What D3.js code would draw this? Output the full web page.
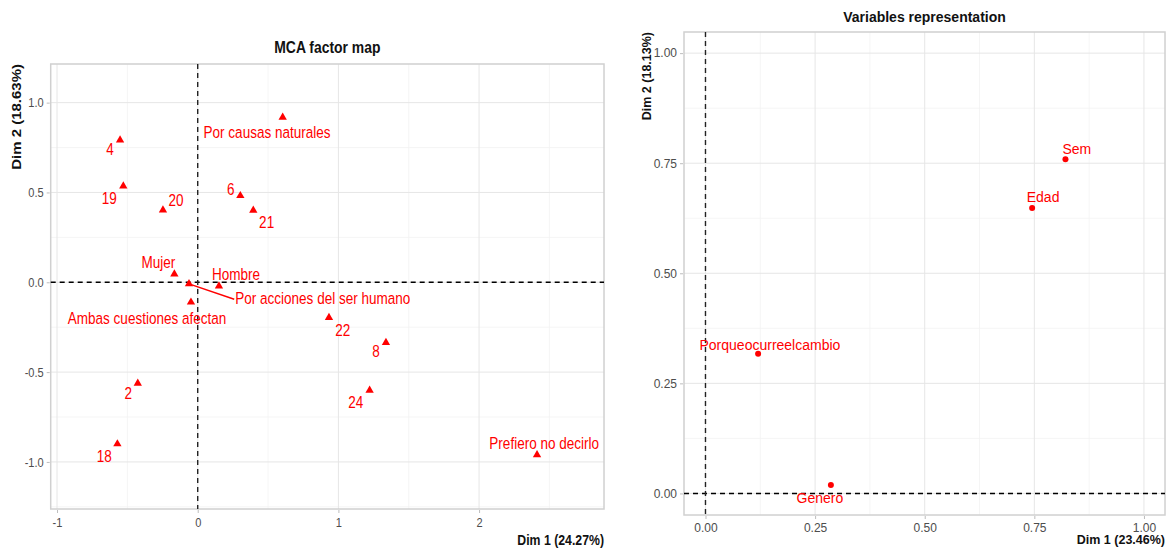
<!DOCTYPE html>
<html>
<head>
<meta charset="utf-8">
<script src="https://cdn.jsdelivr.net/npm/d3@7"></script>
<style>
  body { margin: 0; background: #fff; }
  svg text { font-family: "Liberation Sans", Arial, sans-serif; }
</style>
</head>
<body>
<svg id="chart" width="1167" height="548"></svg>
<script>
// ---- MCA factor map (categories) ----
var mcaNames = ["4", "19", "20", "6", "21", "Por causas naturales", "Mujer", "Hombre",
  "Por acciones del ser humano", "Ambas cuestiones afectan", "22", "8", "24", "2", "18", "Prefiero no decirlo"];
var mcaDim1 = [-0.552, -0.529, -0.247, 0.303, 0.395, 0.604, -0.166, 0.151,
  -0.062, -0.048, 0.933, 1.338, 1.222, -0.426, -0.571, 2.412];
var mcaDim2 = [0.792, 0.536, 0.402, 0.482, 0.401, 0.918, 0.046, -0.021,
  -0.009, -0.111, -0.197, -0.336, -0.601, -0.562, -0.900, -0.961];
// where the repelled labels ended up (data units)
var mcaLabX = [-0.623, -0.628, -0.154, 0.235, 0.490, 0.493, -0.280, 0.272,
  0.889, -0.360, 1.031, 1.267, 1.123, -0.493, -0.664, 2.463];
var mcaLabY = [0.740, 0.467, 0.454, 0.518, 0.332, 0.838, 0.109, 0.045,
  -0.089, -0.200, -0.265, -0.386, -0.670, -0.618, -0.967, -0.896];
var mcaXTicks = [-1, 0, 1, 2];
var mcaYTicks = [-1, -0.5, 0, 0.5, 1];

// ---- Variables representation ----
var varNames = ["Sem", "Edad", "Porqueocurreelcambio", "Genero"];
var varDim1 = [0.821, 0.745, 0.120, 0.286];
var varDim2 = [0.759, 0.648, 0.317, 0.019];
var varLabX = [0.847, 0.770, 0.147, 0.261];
var varLabY = [0.782, 0.673, 0.338, -0.011];
var varTicks = [0, 0.25, 0.5, 0.75, 1];

var svg = d3.select("#chart");
var red = "#FF0000";
var grey = "#4D4D4D";

// the left plot was squeezed sideways, so its text is drawn narrower
function hyphen(f) { return function (d) { return f(d).replace("\u2212", "-"); }; }

function putText(g, x, y, k, txt) {
  return g.append("text")
    .attr("transform", "translate(" + x + "," + y + ") scale(" + k + ",1)")
    .attr("dy", "0.35em").text(txt);
}

function drawPanel(opt) {
  var g = svg.append("g");
  var k = opt.squeeze;
  var x = d3.scaleLinear().domain(opt.xDomain).range([opt.left, opt.right]);
  var y = d3.scaleLinear().domain(opt.yDomain).range([opt.bottom, opt.top]);

  // grid
  opt.xMinor.forEach(function (v) {
    g.append("line").attr("x1", x(v)).attr("x2", x(v)).attr("y1", opt.top).attr("y2", opt.bottom)
      .attr("stroke", "#F2F2F2").attr("stroke-width", 0.8);
  });
  opt.yMinor.forEach(function (v) {
    g.append("line").attr("y1", y(v)).attr("y2", y(v)).attr("x1", opt.left).attr("x2", opt.right)
      .attr("stroke", "#F2F2F2").attr("stroke-width", 0.8);
  });
  opt.xTicks.forEach(function (v) {
    g.append("line").attr("x1", x(v)).attr("x2", x(v)).attr("y1", opt.top).attr("y2", opt.bottom)
      .attr("stroke", "#E6E6E6").attr("stroke-width", 1);
  });
  opt.yTicks.forEach(function (v) {
    g.append("line").attr("y1", y(v)).attr("y2", y(v)).attr("x1", opt.left).attr("x2", opt.right)
      .attr("stroke", "#E6E6E6").attr("stroke-width", 1);
  });

  // panel border
  g.append("rect").attr("x", opt.left).attr("y", opt.top)
    .attr("width", opt.right - opt.left).attr("height", opt.bottom - opt.top)
    .attr("fill", "none").attr("stroke", "#D0D0D0").attr("stroke-width", 1.5);

  // axes
  var xAxis = g.append("g").attr("transform", "translate(0," + (opt.bottom + 1) + ")")
    .call(d3.axisBottom(x).tickValues(opt.xTicks).tickFormat(opt.xFmt).tickSize(3).tickPadding(4));
  var yAxis = g.append("g").attr("transform", "translate(" + (opt.left - 1) + ",0)")
    .call(d3.axisLeft(y).tickValues(opt.yTicks).tickFormat(opt.yFmt).tickSize(3).tickPadding(3));
  [xAxis, yAxis].forEach(function (a) {
    a.select(".domain").remove();
    a.selectAll(".tick line").attr("stroke", "#BDBDBD");
    a.selectAll(".tick text").attr("fill", grey).style("font-size", opt.tickSize + "px")
      .each(function () {
        var t = d3.select(this);
        t.attr("x", (+t.attr("x") || 0) / k).attr("transform", "scale(" + k + ",1)");
      });
  });

  // reference lines
  g.append("line").attr("x1", opt.left).attr("x2", opt.right).attr("y1", y(0)).attr("y2", y(0))
    .attr("stroke", "#000").attr("stroke-width", 1.4).attr("stroke-dasharray", "5,4");
  g.append("line").attr("x1", x(0)).attr("x2", x(0)).attr("y1", opt.top).attr("y2", opt.bottom)
    .attr("stroke", "#222").attr("stroke-width", 1.4).attr("stroke-dasharray", "5,4");

  // titles
  putText(g, (opt.left + opt.right) / 2, opt.titleY, k, opt.title)
    .attr("text-anchor", "middle").style("font-weight", "bold")
    .style("font-size", opt.titleSize + "px").attr("fill", "#111");
  putText(g, opt.right, opt.xLabY, k, opt.xLabel)
    .attr("text-anchor", "end").style("font-weight", "bold")
    .style("font-size", opt.axisSize + "px").attr("fill", "#111");
  g.append("text").attr("transform", "translate(" + opt.yLabX + "," + opt.top + ") rotate(-90) scale(1," + k + ")")
    .attr("text-anchor", "end").attr("dy", "0.35em")
    .style("font-weight", "bold").style("font-size", opt.yAxisSize + "px")
    .attr("fill", "#111").text(opt.yLabel);

  return { g: g, x: x, y: y };
}

// left panel
var L = drawPanel({
  left: 50.7, right: 604, top: 64, bottom: 509, squeeze: 0.82,
  xDomain: [-1.045, 2.888], yDomain: [-1.262, 1.215],
  xTicks: mcaXTicks, yTicks: mcaYTicks,
  xMinor: [-0.5, 0.5, 1.5, 2.5], yMinor: [-1.25, -0.75, -0.25, 0.25, 0.75],
  xFmt: hyphen(d3.format("d")), yFmt: hyphen(d3.format(".1f")),
  tickSize: 13.5, title: "MCA factor map", titleSize: 17, titleY: 46.7,
  xLabel: "Dim 1 (24.27%)", xLabY: 540, axisSize: 15,
  yLabel: "Dim 2 (18.63%)", yLabX: 16.7, yAxisSize: 15
});

var tri = d3.symbol().type(d3.symbolTriangle).size(30);
var mcaIdx = d3.range(mcaNames.length);

var labels = L.g.append("g");
mcaIdx.forEach(function (i) {
  var t = putText(labels, L.x(mcaLabX[i]), L.y(mcaLabY[i]), 0.82, mcaNames[i])
    .attr("text-anchor", "middle").style("font-size", "16.5px").attr("fill", red);
  // segment for the label pushed away from its point
  if (mcaNames[i] === "Por acciones del ser humano") {
    var w = t.node().getComputedTextLength() * 0.82;
    L.g.append("line")
      .attr("x1", L.x(mcaDim1[i])).attr("y1", L.y(mcaDim2[i]))
      .attr("x2", L.x(mcaLabX[i]) - w / 2 - 1).attr("y2", L.y(mcaLabY[i]) + 1)
      .attr("stroke", red).attr("stroke-width", 1.5);
  }
});
L.g.append("g").selectAll("path").data(mcaIdx).enter().append("path")
  .attr("d", tri)
  .attr("transform", function (i) { return "translate(" + L.x(mcaDim1[i]) + "," + L.y(mcaDim2[i]) + ")"; })
  .attr("fill", red);

// right panel
var R = drawPanel({
  left: 684, right: 1165, top: 32, bottom: 515, squeeze: 1,
  xDomain: [-0.049, 1.048], yDomain: [-0.049, 1.048],
  xTicks: varTicks, yTicks: varTicks,
  xMinor: [0.125, 0.375, 0.625, 0.875], yMinor: [0.125, 0.375, 0.625, 0.875],
  xFmt: d3.format(".2f"), yFmt: d3.format(".2f"),
  tickSize: 12, title: "Variables representation", titleSize: 14, titleY: 17.3,
  xLabel: "Dim 1 (23.46%)", xLabY: 540, axisSize: 12.5,
  yLabel: "Dim 2 (18.13%)", yLabX: 646.7, yAxisSize: 12.5
});
var vIdx = d3.range(varNames.length);
R.g.append("g").selectAll("circle").data(vIdx).enter().append("circle")
  .attr("cx", function (i) { return R.x(varDim1[i]); })
  .attr("cy", function (i) { return R.y(varDim2[i]); })
  .attr("r", 3).attr("fill", red);
R.g.append("g").selectAll("text").data(vIdx).enter().append("text")
  .attr("x", function (i) { return R.x(varLabX[i]); })
  .attr("y", function (i) { return R.y(varLabY[i]); })
  .attr("text-anchor", "middle").attr("dy", "0.35em")
  .style("font-size", "14px").attr("fill", red)
  .text(function (i) { return varNames[i]; });
</script>
</body>
</html>
